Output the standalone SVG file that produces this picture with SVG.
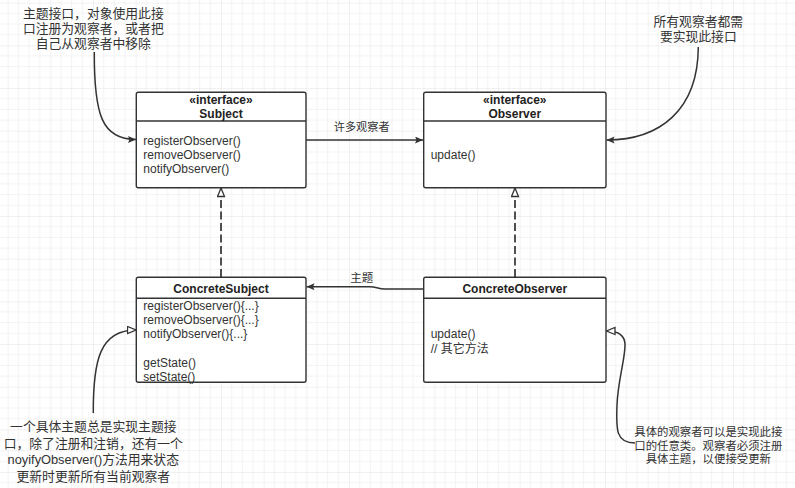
<svg xmlns="http://www.w3.org/2000/svg" width="795" height="488" viewBox="0 0 795 488">
<style>
.box{fill:#fff;stroke:#333;stroke-width:1.4}
.div{stroke:#333;stroke-width:1.4}
.t{font-family:"Liberation Sans","Noto Sans CJK SC",sans-serif;font-size:12px;fill:#333}
.b{font-weight:bold;text-anchor:middle;fill:#222}
.n{font-family:"Liberation Sans","Noto Sans CJK SC",sans-serif;fill:#333;text-anchor:middle}
.c{fill:none;stroke:#333;stroke-width:1.5}
.d{fill:none;stroke:#333;stroke-width:1.7;stroke-dasharray:8 3.5}
</style>
<defs>
<pattern id="grid" patternUnits="userSpaceOnUse" x="7.667" y="2.667" width="42.667" height="42.667">
<path d="M10.667 0V42.667M21.333 0V42.667M32 0V42.667M0 10.667H42.667M0 21.333H42.667M0 32H42.667" stroke="#f2f2f2" stroke-width="1" fill="none"/>
<path d="M0 0V42.667M0 0H42.667" stroke="#e3e3e3" stroke-width="1" fill="none"/>
</pattern>
<marker id="fa" markerUnits="userSpaceOnUse" markerWidth="10" markerHeight="8" refX="8" refY="3.5" orient="auto">
<path d="M0 0L8 3.5L0 7L1.5 3.5Z" fill="#333"/>
</marker>
<marker id="ha" markerUnits="userSpaceOnUse" markerWidth="12" markerHeight="10" refX="9.5" refY="4.5" orient="auto">
<path d="M1 1L9.5 4.5L1 8Z" fill="#fff" stroke="#333" stroke-width="1.3"/>
</marker>
</defs>
<rect width="795" height="488" fill="#fff"/>
<rect width="795" height="488" fill="url(#grid)"/>

<g id="connectors">
<path class="c" d="M306 140H423" marker-end="url(#fa)"/>
<text class="n" x="361.7" y="131" font-size="11.2">许多观察者</text>
<path class="d" d="M221 277V188" marker-end="url(#ha)"/>
<path class="d" d="M515 277V188" marker-end="url(#ha)"/>
<path class="c" d="M423.7 289H385C378 289 376 286.7 370 286.7H306.5" marker-end="url(#fa)"/>
<text class="n" x="361.7" y="282.3" font-size="11.5">主题</text>
<path class="c" d="M94.3 52C94 115 102 139.5 136 139.5" marker-end="url(#fa)"/>
<path class="c" d="M698.3 47C698 110 660 140 606.5 140" marker-end="url(#fa)"/>
<path class="c" d="M93.3 413C93 360 100 330 136 330" marker-end="url(#ha)"/>
<path class="c" d="M635 443C616 443 616 430 617 405C618 380 625 360 625 345C625 335 618 331 606.5 331" marker-end="url(#ha)"/>
</g>

<g id="Subject">
<rect class="box" x="136.3" y="92.3" width="169.7" height="95.4" rx="2"/>
<line class="div" x1="136.3" y1="121" x2="306" y2="121"/>
<text class="t b" x="221" y="104">«interface»</text>
<text class="t b" x="221" y="118">Subject</text>
<text class="t" x="143.3" y="145">registerObserver()</text>
<text class="t" x="143.3" y="159">removeObserver()</text>
<text class="t" x="143.3" y="173">notifyObserver()</text>
</g>

<g id="Observer">
<rect class="box" x="423.7" y="92.3" width="182.3" height="95.4" rx="2"/>
<line class="div" x1="423.7" y1="121" x2="606" y2="121"/>
<text class="t b" x="514.8" y="104">«interface»</text>
<text class="t b" x="514.8" y="118">Observer</text>
<text class="t" x="430.7" y="159">update()</text>
</g>

<g id="ConcreteSubject">
<rect class="box" x="136.3" y="277.3" width="169.7" height="105" rx="2"/>
<line class="div" x1="136.3" y1="298.3" x2="306" y2="298.3"/>
<text class="t b" x="221" y="292.5">ConcreteSubject</text>
<text class="t" x="143.3" y="310">registerObserver(){...}</text>
<text class="t" x="143.3" y="324">removeObserver(){...}</text>
<text class="t" x="143.3" y="338">notifyObserver(){...}</text>
<text class="t" x="143.3" y="367">getState()</text>
<text class="t" x="143.3" y="381">setState()</text>
</g>

<g id="ConcreteObserver">
<rect class="box" x="423.7" y="277.3" width="182.3" height="105" rx="2"/>
<line class="div" x1="423.7" y1="298.3" x2="606" y2="298.3"/>
<text class="t b" x="514.8" y="292.5">ConcreteObserver</text>
<text class="t" x="430.7" y="337.5">update()</text>
<text class="t" x="430.7" y="352.5">// 其它方法</text>
</g>

<g id="note-subject" font-size="12.8">
<text class="n" x="93.3" y="18">主题接口，对象使用此接</text>
<text class="n" x="93.3" y="33">口注册为观察者，或者把</text>
<text class="n" x="93.3" y="48">自己从观察者中移除</text>
</g>

<g id="note-observer" font-size="12.8">
<text class="n" x="698.3" y="26">所有观察者都需</text>
<text class="n" x="698.3" y="40.5">要实现此接口</text>
</g>

<g id="note-concretesubject" font-size="12.8">
<text class="n" x="93.3" y="431">一个具体主题总是实现主题接</text>
<text class="n" x="93.3" y="447.5">口，除了注册和注销，还有一个</text>
<text class="n" x="93.3" y="464">noyifyObserver()方法用来状态</text>
<text class="n" x="93.3" y="481">更新时更新所有当前观察者</text>
</g>

<g id="note-concreteobserver" font-size="11.4">
<text class="n" x="708.3" y="436.3">具体的观察者可以是实现此接</text>
<text class="n" x="708.3" y="449.5">口的任意类。观察者必须注册</text>
<text class="n" x="708.3" y="463.3">具体主题，以便接受更新</text>
</g>
</svg>
